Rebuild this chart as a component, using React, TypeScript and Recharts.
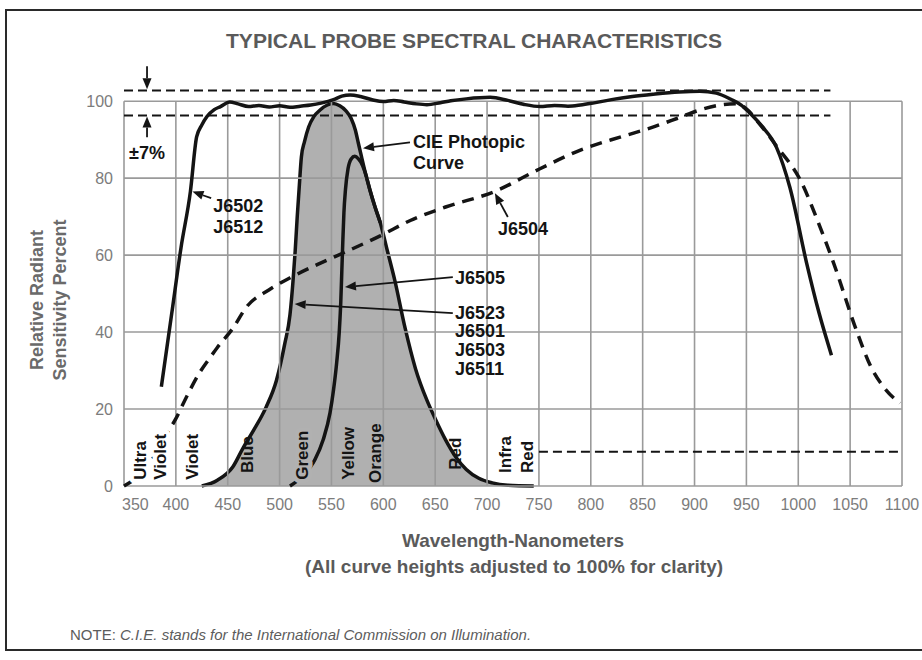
import { ComposedChart, Area, Line, XAxis, YAxis, ReferenceLine, ReferenceDot } from "recharts"

const FONT = '"Liberation Sans", Arial, Helvetica, sans-serif'
const INK = "#141414"
const GRID = "#9a9a9a"
const TICK = "#7c7c7c"
const LABEL = "#5a5a5a"
const SHADE = "#8e8e8e"
const SHADE_ON_WHITE = "#b1b1b1"

const W = 922
const H = 660
const MARGIN = { top: 55, right: 20, bottom: 144, left: 64 }
const Y_AXIS_W = 60
const X_AXIS_H = 30
const X_DOMAIN = [350, 1100]
const Y_DOMAIN = [0, 112]

const wavelengthTicks = [350, 400, 450, 500, 550, 600, 650, 700, 750, 800, 850, 900, 950, 1000, 1050, 1100]
const percentTicks = [0, 20, 40, 60, 80, 100]

// CIE photopic curve (shaded) - also J6523 / J6501 / J6503 / J6511
const cieNm = [425, 440, 455, 465, 475, 487, 497, 505, 510, 513, 515, 517, 519, 521, 524, 528, 533, 539, 546, 552, 558, 564, 569, 573, 576, 579, 583, 587, 592, 597, 604, 611, 621, 631, 642, 650, 660, 670, 680, 692, 705, 720, 745]
const ciePct = [0, 1.5, 5, 10, 14.5, 20.5, 27.5, 37, 44.5, 53.5, 61, 70, 78, 85.5, 89.5, 93.3, 96, 97.7, 99, 99.4, 98.8, 97.5, 95.5, 92.5, 89, 85.5, 81, 77, 72.5, 68.5, 61, 53.5, 41, 30.5, 22.3, 17.5, 12, 7.5, 4.3, 2, 0.8, 0.2, 0]

// J6505
const j6505Nm = [510, 522, 534, 542, 548.6, 552, 555, 557.5, 559, 560, 561, 562, 563.5, 566, 569, 572.5, 576, 580, 583, 587, 592, 597]
const j6505Pct = [0, 2.5, 6.8, 12, 19, 25, 32, 40, 48, 56, 64, 71, 77, 82.5, 85, 85.7, 85, 83.3, 81, 77, 72.5, 68.5]

// J6502 / J6512
const j6502Nm = [386, 396, 405, 414, 420, 425, 430, 437, 443, 452, 460, 470, 480, 490, 500, 510, 520, 530, 540, 552, 560, 568, 578, 590, 600, 610, 620, 632, 642, 655, 665, 680, 703, 720, 735, 751, 765, 778, 790, 802, 820, 840, 860, 885, 905, 921, 935, 945, 953, 965, 979, 992, 1008, 1020, 1032]
const j6502Pct = [25.8, 44.8, 62, 76.5, 90.7, 93.8, 96, 97.8, 98.6, 99.8, 99.3, 98.6, 98.9, 98.5, 98.8, 98.4, 98.7, 99, 99.5, 100.4, 101.3, 101.6, 101.2, 100.3, 99.9, 100.2, 99.8, 99.3, 99.1, 99.6, 100.1, 100.6, 101, 100.2, 99.2, 98.6, 98.9, 98.7, 99, 99.5, 100.4, 101.2, 101.8, 102.4, 102.6, 102.1, 100.5, 99, 97, 93.5, 88, 77.5, 58, 45, 34]

// J6504 (dashed)
const j6504Nm = [350, 359, 370, 380, 390, 400, 410, 423, 432, 440, 455, 468, 490, 513, 540, 565, 597, 626, 660, 707, 750, 790, 830, 857, 883, 905, 925, 940, 950, 963, 980, 1002, 1020, 1034, 1056, 1070, 1082, 1098]
const j6504Pct = [0, 1.5, 4.5, 8, 13, 17.5, 23, 29.5, 33, 36, 41, 46.5, 51, 54.5, 58, 61, 65, 69, 72.5, 76.5, 82.3, 87.3, 90.8, 93, 95.5, 97.7, 99, 99.3, 98, 94, 88, 79.5, 68, 58, 40.5, 31, 25.8, 21.5]

// ±7% band limits
const bandHigh = 102.8
const bandLow = 96.3
const irLevel = 8.9

const toPoints = (xs: number[], ys: number[]) => xs.map((nm, i) => ({ nm, pct: ys[i] }))

const cieData = toPoints(cieNm, ciePct)
const j6505Data = toPoints(j6505Nm, j6505Pct)
const j6502Data = toPoints(j6502Nm, j6502Pct)
const j6504Data = toPoints(j6504Nm, j6504Pct)

// annotation text, placed in chart units
const curveNotes = [
  { text: "J6502", nm: 436, pct: 73.0 },
  { text: "J6512", nm: 436, pct: 67.3 },
  { text: "CIE Photopic", nm: 628.6, pct: 89.6 },
  { text: "Curve", nm: 628.6, pct: 84.1 },
  { text: "J6504", nm: 710.5, pct: 67.0 },
  { text: "J6505", nm: 669.1, pct: 54.3 },
  { text: "J6523", nm: 669.1, pct: 45.2 },
  { text: "J6501", nm: 669.1, pct: 40.3 },
  { text: "J6503", nm: 669.1, pct: 35.4 },
  { text: "J6511", nm: 669.1, pct: 30.5 },
]

const pointers = [
  { from: [434, 74.8], to: [416, 76.5] },
  { from: [625.7, 89.3], to: [580.4, 87.8] },
  { from: [720, 69.9], to: [707.6, 76.1] },
  { from: [667, 54.3], to: [563, 51.7] },
  { from: [667, 44.9], to: [514.5, 47.3] },
  { from: [372.2, 109.1], to: [372.2, bandHigh + 0.3] },
  { from: [372.2, 90.6], to: [372.2, bandLow - 0.3] },
]

// colour band names along the bottom (rotated)
const bandNotes = [
  { text: "Ultra", nm: 365.4, pct: 1.6, halo: "#ffffff" },
  { text: "Violet", nm: 384.7, pct: 1.6, halo: "#ffffff" },
  { text: "Violet", nm: 415.3, pct: 1.6, halo: "" },
  { text: "Blue", nm: 468.3, pct: 3.4, halo: "" },
  { text: "Green", nm: 521.3, pct: 1.6, halo: SHADE_ON_WHITE },
  { text: "Yellow", nm: 566, pct: 1.6, halo: "" },
  { text: "Orange", nm: 592, pct: 0.8, halo: "" },
  { text: "Red", nm: 669, pct: 4.2, halo: "" },
  { text: "Infra", nm: 717.3, pct: 3.4, halo: "" },
  { text: "Red", nm: 738.2, pct: 3.4, halo: "" },
]

// plot-area mapping for the overlay labels (same layout as the chart below)
const plotLeft = MARGIN.left + Y_AXIS_W
const plotRight = W - MARGIN.right
const plotTop = MARGIN.top
const plotBottom = H - MARGIN.bottom - X_AXIS_H
const px = (nm: number) => plotLeft + ((nm - X_DOMAIN[0]) / (X_DOMAIN[1] - X_DOMAIN[0])) * (plotRight - plotLeft)
const py = (pct: number) => plotBottom - ((pct - Y_DOMAIN[0]) / (Y_DOMAIN[1] - Y_DOMAIN[0])) * (plotBottom - plotTop)

function Arrow(props: any) {
  const { x1, y1, x2, y2 } = props
  const ang = Math.atan2(y2 - y1, x2 - x1)
  const len = 11
  const half = 4.5
  const bx = x2 - len * Math.cos(ang)
  const by = y2 - len * Math.sin(ang)
  const ox = -Math.sin(ang) * half
  const oy = Math.cos(ang) * half
  return (
    <g>
      <line x1={x1} y1={y1} x2={bx} y2={by} stroke={INK} strokeWidth={1.8} />
      <polygon points={`${x2},${y2} ${bx + ox},${by + oy} ${bx - ox},${by - oy}`} fill={INK} />
    </g>
  )
}

function WaveTick({ x, y, payload }: any) {
  const first = payload.value === wavelengthTicks[0]
  return (
    <text
      x={first ? x - 2 : x}
      y={y}
      dy="0.71em"
      textAnchor={first ? "start" : "middle"}
      fill={TICK}
      fontSize={16}
      fontFamily={FONT}
    >
      {payload.value}
    </text>
  )
}

function Frame() {
  return (
    <svg width={W} height={H} style={{ position: "absolute", left: 0, top: 0, pointerEvents: "none" }}>
      <path d="M922,10 L6,10 L6,650 L922,650" fill="none" stroke="#2a2a2a" strokeWidth={2} />
      <text x={474} y={48} textAnchor="middle" fontFamily={FONT} fontWeight="bold" fontSize={20} fill={LABEL} textLength={496} lengthAdjust="spacingAndGlyphs">
        TYPICAL PROBE SPECTRAL CHARACTERISTICS
      </text>
      <g transform="translate(37,300) rotate(-90)">
        <text x={0} y={0} dy="0.36em" textAnchor="middle" fontFamily={FONT} fontWeight="bold" fontSize={18} fill="#6a6a6a">
          Relative Radiant
        </text>
      </g>
      <g transform="translate(60,300) rotate(-90)">
        <text x={0} y={0} dy="0.36em" textAnchor="middle" fontFamily={FONT} fontWeight="bold" fontSize={18} fill="#6a6a6a">
          Sensitivity Percent
        </text>
      </g>
      <text x={513} y={547} textAnchor="middle" fontFamily={FONT} fontWeight="bold" fontSize={19} fill={LABEL}>
        Wavelength-Nanometers
      </text>
      <text x={514} y={573} textAnchor="middle" fontFamily={FONT} fontWeight="bold" fontSize={19} fill={LABEL}>
        (All curve heights adjusted to 100% for clarity)
      </text>
      <text x={70} y={640} fontFamily={FONT} fontSize={15} fill="#5c5c5c">
        NOTE: <tspan fontStyle="italic">C.I.E. stands for the International Commission on Illumination.</tspan>
      </text>
    </svg>
  )
}

function BandLabels() {
  return (
    <svg width={W} height={H} style={{ position: "absolute", left: 0, top: 0, pointerEvents: "none" }}>
      {bandNotes.map((n, i) => (
        <text
          key={i}
          transform={`translate(${px(n.nm)},${py(n.pct)}) rotate(-90)`}
          dy="0.36em"
          textAnchor="start"
          fontFamily={FONT}
          fontWeight="bold"
          fontSize={17}
          fill={INK}
          stroke={n.halo || "none"}
          strokeWidth={n.halo ? 9 : 0}
          strokeLinejoin="round"
          style={{ paintOrder: "stroke" }}
        >
          {n.text}
        </text>
      ))}
    </svg>
  )
}

export default function App() {
  return (
    <div style={{ position: "absolute", left: 0, top: 0, width: W, height: H, background: "#fff" }}>
      <Frame />
      <div style={{ position: "absolute", left: 0, top: 0 }}>
        <ComposedChart width={W} height={H} margin={MARGIN}>
          <XAxis
            type="number"
            dataKey="nm"
            domain={X_DOMAIN}
            ticks={wavelengthTicks}
            interval={0}
            height={X_AXIS_H}
            axisLine={false}
            tickLine={false}
            tickSize={0}
            tickMargin={13}
            tick={<WaveTick />}
          />
          <YAxis
            type="number"
            dataKey="pct"
            domain={Y_DOMAIN}
            ticks={percentTicks}
            width={Y_AXIS_W}
            axisLine={false}
            tickLine={false}
            tickSize={0}
            tickMargin={11}
            tick={{ fill: TICK, fontSize: 16, fontFamily: FONT }}
          />

          {wavelengthTicks.map((t) => (
            <ReferenceLine key={`vx${t}`} segment={[{ x: t, y: 0 }, { x: t, y: 100 }]} stroke={GRID} strokeWidth={1.6} />
          ))}
          {percentTicks.map((t) => (
            <ReferenceLine key={`hy${t}`} segment={[{ x: 350, y: t }, { x: 1100, y: t }]} stroke={GRID} strokeWidth={1.6} />
          ))}

          <Area
            data={cieData}
            dataKey="pct"
            type="monotone"
            stroke={INK}
            strokeWidth={3.5}
            fill={SHADE}
            fillOpacity={0.7}
            isAnimationActive={false}
            dot={false}
            activeDot={false}
          />
          <Line data={j6505Data} dataKey="pct" type="monotone" stroke={INK} strokeWidth={3.5} dot={false} activeDot={false} isAnimationActive={false} />
          <Line data={j6502Data} dataKey="pct" type="monotone" stroke={INK} strokeWidth={3.5} dot={false} activeDot={false} isAnimationActive={false} />
          <Line
            data={j6504Data}
            dataKey="pct"
            type="monotone"
            stroke={INK}
            strokeWidth={3.5}
            strokeDasharray="12 8"
            dot={false}
            activeDot={false}
            isAnimationActive={false}
          />

          <ReferenceLine segment={[{ x: 350, y: bandHigh }, { x: 1031, y: bandHigh }]} stroke={INK} strokeWidth={2} strokeDasharray="9 5" />
          <ReferenceLine segment={[{ x: 350, y: bandLow }, { x: 1031, y: bandLow }]} stroke={INK} strokeWidth={2} strokeDasharray="9 5" />
          <ReferenceLine segment={[{ x: 750, y: irLevel }, { x: 1098, y: irLevel }]} stroke={INK} strokeWidth={2} strokeDasharray="9 5" />

          {pointers.map((p, i) => (
            <ReferenceLine
              key={`ptr${i}`}
              segment={[{ x: p.from[0], y: p.from[1] }, { x: p.to[0], y: p.to[1] }]}
              shape={(props: any) => <Arrow {...props} />}
            />
          ))}

          {curveNotes.map((n, i) => (
            <ReferenceDot
              key={`note${i}`}
              x={n.nm}
              y={n.pct}
              r={0}
              shape={(props: any) => (
                <text x={props.cx} y={props.cy} dy="0.36em" fontFamily={FONT} fontWeight="bold" fontSize={18} fill={INK}>
                  {n.text}
                </text>
              )}
            />
          ))}

          <ReferenceDot
            x={372.2}
            y={86.7}
            r={0}
            shape={(props: any) => (
              <text x={props.cx} y={props.cy} dy="0.36em" textAnchor="middle" fontFamily={FONT} fontWeight="bold" fontSize={18} fill={INK}>
                ±7%
              </text>
            )}
          />
        </ComposedChart>
      </div>
      <BandLabels />
    </div>
  )
}
